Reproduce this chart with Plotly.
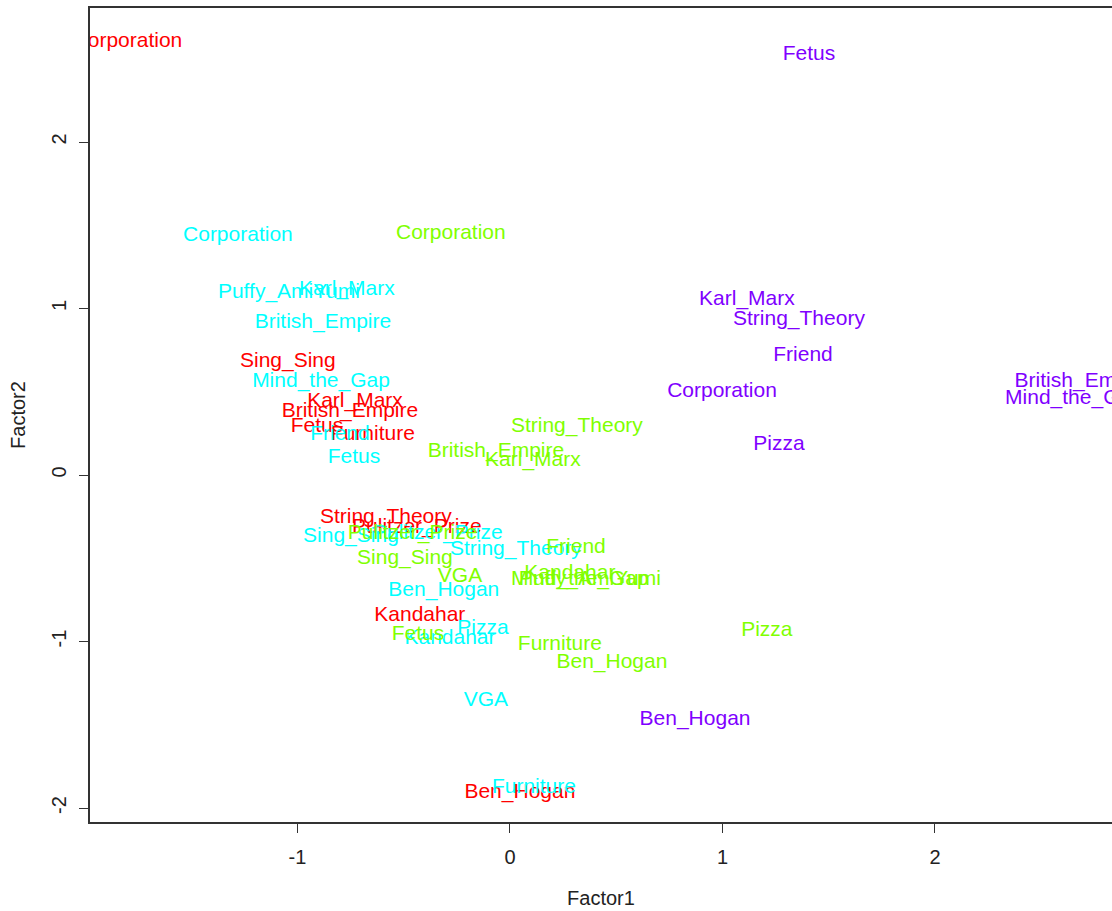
import plotly.graph_objects as go

# Factor scores for each term, one group per colour
red_labels = ["Corporation", "Sing_Sing", "Karl_Marx", "British_Empire", "Fetus",
              "Furniture", "String_Theory", "Pulitzer_Prize", "Kandahar", "Ben_Hogan"]
red_f1 = [-1.80, -1.045, -0.729, -0.753, -0.908, -0.645, -0.584, -0.438, -0.424, 0.047]
red_f2 = [2.601, 0.679, 0.438, 0.378, 0.288, 0.240, -0.258, -0.318, -0.847, -1.910]

cyan_labels = ["Corporation", "Puffy_AmiYumi", "Karl_Marx", "British_Empire", "Mind_the_Gap",
               "Friend", "Fetus", "Sing_Sing", "Pulitzer_Prize", "String_Theory",
               "Ben_Hogan", "Pizza", "Kandahar", "VGA", "Furniture"]
cyan_f1 = [-1.28, -1.040, -0.767, -0.880, -0.889, -0.800, -0.734, -0.748, -0.339, 0.028,
           -0.311, -0.127, -0.282, -0.113, 0.113]
cyan_f2 = [1.435, 1.093, 1.111, 0.913, 0.559, 0.240, 0.102, -0.372, -0.354, -0.450,
           -0.697, -0.925, -0.985, -1.357, -1.880]

green_labels = ["Corporation", "String_Theory", "British_Empire", "Karl_Marx", "Pulitzer_Prize",
                "Sing_Sing", "Friend", "VGA", "Kandahar", "Mind_the_Gap",
                "Puffy_AmiYumi", "Pizza", "Fetus", "Furniture", "Ben_Hogan"]
green_f1 = [-0.278, 0.315, -0.066, 0.108, -0.458, -0.494, 0.311, -0.235, 0.282, 0.329,
            0.376, 1.209, -0.433, 0.235, 0.480]
green_f2 = [1.447, 0.288, 0.138, 0.084, -0.354, -0.504, -0.438, -0.613, -0.595, -0.631,
            -0.631, -0.937, -0.961, -1.021, -1.129]

purple_labels = ["Fetus", "Karl_Marx", "String_Theory", "Friend", "Corporation",
                 "Pizza", "British_Empire", "Mind_the_Gap", "Ben_Hogan"]
purple_f1 = [1.407, 1.115, 1.360, 1.379, 0.998, 1.266, 2.696, 2.654, 0.871]
purple_f2 = [2.523, 1.051, 0.931, 0.715, 0.499, 0.180, 0.559, 0.456, -1.471]

groups = [
    (red_labels, red_f1, red_f2, "#FF0000"),
    (cyan_labels, cyan_f1, cyan_f2, "#00FFFF"),
    (green_labels, green_f1, green_f2, "#80FF00"),
    (purple_labels, purple_f1, purple_f2, "#8000FF"),
]

FONT = "Liberation Sans, Arial, Helvetica, sans-serif"

fig = go.Figure()
for labels, f1, f2, colour in groups:
    fig.add_trace(go.Scatter(
        x=f1, y=f2, text=labels, mode="text",
        textposition="middle center",
        textfont=dict(family=FONT, size=21, color=colour),
        cliponaxis=True, showlegend=False, hoverinfo="skip",
    ))

fig.update_layout(
    width=1112, height=911,
    margin=dict(l=90, r=0, t=8, b=89),
    paper_bgcolor="white", plot_bgcolor="white",
    font=dict(family=FONT, size=20, color="#222222"),
)

fig.update_xaxes(
    range=[-1.976, 2.833], showgrid=False, zeroline=False,
    showline=True, linecolor="#333333", linewidth=1.5, mirror=True,
    ticks="outside", ticklen=9, tickwidth=1.2, tickcolor="#333333",
    tickvals=[-1, 0, 1, 2], ticktext=["-1", "0", "1", "2"],
    ticklabelstandoff=7,
    title=dict(text="Factor1", standoff=24, font=dict(size=20)),
)
fig.update_yaxes(
    range=[-2.084, 2.805], showgrid=False, zeroline=False,
    showline=True, linecolor="#333333", linewidth=1.5, mirror=False,
    ticks="outside", ticklen=9, tickwidth=1.2, tickcolor="#333333",
    tickvals=[-2, -1, 0, 1, 2], ticktext=["-2", "-1", "0", "1", "2"],
    tickangle=-90, ticklabelstandoff=5,
    title=dict(text="Factor2", standoff=17, font=dict(size=20)),
)

fig.write_html("out.html")
